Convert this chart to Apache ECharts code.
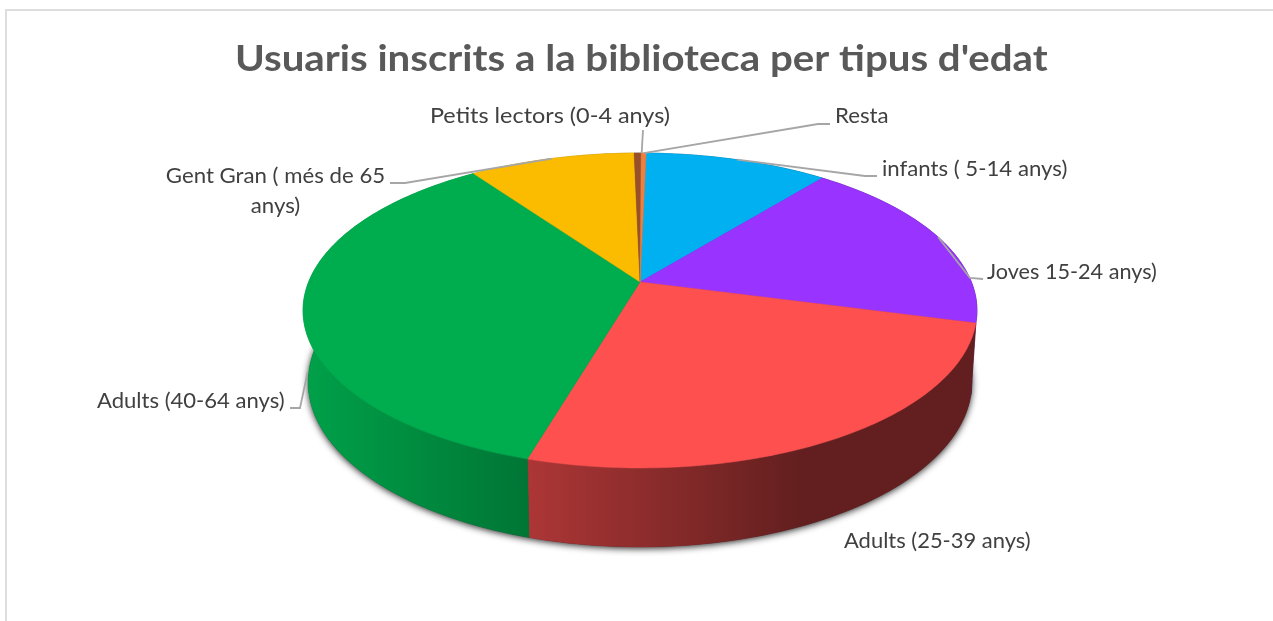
<!DOCTYPE html>
<html><head><meta charset="utf-8">
<style>html,body{margin:0;padding:0;background:#fff}#c{width:1273px;height:621px}</style>
<script src="https://cdn.jsdelivr.net/npm/echarts@6/dist/echarts.min.js"></script>
</head><body><div id="c"></div>
<script>
// Data, clockwise from the top of the pie (percent of users)
const categories = ["infants ( 5-14 anys)", "Joves 15-24 anys)", "Adults (25-39 anys)", "Adults (40-64 anys)", "Gent Gran ( més de 65\nanys)", "Petits lectors (0-4 anys)", "Resta"];
const values = [10.45, 18.35, 25.4, 35.7, 9.45, 0.4, 0.28];
const colors = ["#00B0F0", "#9933FF", "#FF5050", "#00AD4E", "#FBBC00", "#96512A", "#ED8040"];
const titleText = "Usuaris inscrits a la biblioteca per tipus d'edat";

// Layout / projection of the tilted disc
const firstSliceAngle = 1.25, apexX = 640, apexY = 282;
const persp = 0.181, scaleX = 331.4, scaleY = 152.3;
const wallScaleX = 0.985, wallScaleY = 1.047, wallDrop = 70.3;
// Wall shading by screen x: [x, brightness]
const wallShade = [[303, 0.93], [527, 0.68], [800, 0.39], [977, 0.39]];
// Label anchors: [x, y, align], horizontal stretch, leader elbows, where on the wall the leader lands (0 = top rim), and a small sideways nudge
const labelPos = [[882, 169, 'left'], [987, 272, 'left'], [844, 541.5, 'left'], [97, 401, 'left'], [275.5, 191, 'center'], [550, 116.5, 'center'], [835, 116.5, 'left']];
const labelStretch = [1.057, 1.03, 1.045, 1.05, 1.058, 1.115, 1.06];
const leaderPath = [[[865, 176], [877, 176]], [[970, 278], [983, 279]], null, [[300, 408], [290, 408]], [[405, 183], [390, 183]], [[643, 130]], [[818, 124], [830, 124]]];
const leaderDepth = [0, 0, 0, 0.9, 0, 0, 0];
const leaderNudge = [0, 0, 0, 0, 0, 4, 0];

const total = values.reduce((a, b) => a + b, 0);
const starts = [];
values.reduce((acc, v, i) => { starts[i] = acc; return acc + v / total * 360; }, firstSliceAngle);

function rimPoint(deg) {
  const r = deg * Math.PI / 180, u = Math.sin(r), v = -Math.cos(r), w = 1 - persp * v;
  return [apexX + scaleX * u / w, apexY + scaleY * v / w];
}
function basePoint(deg) {
  const p = rimPoint(deg);
  return [apexX + (p[0] - apexX) * wallScaleX, apexY + (p[1] - apexY) * wallScaleY + wallDrop];
}
function arc(fn, a, b) {
  const n = Math.max(2, Math.ceil(Math.abs(b - a))), pts = [];
  for (let i = 0; i <= n; i++) pts.push(fn(a + (b - a) * i / n));
  return pts;
}
function shade(hex, k) {
  const n = parseInt(hex.slice(1), 16);
  return 'rgb(' + [n >> 16 & 255, n >> 8 & 255, n & 255].map(c => Math.round(c * k)).join(',') + ')';
}
function wallFill(hex) {
  const x0 = wallShade[0][0], x1 = wallShade[wallShade.length - 1][0];
  return { type: 'linear', x: x0, y: 0, x2: x1, y2: 0, global: true,
    colorStops: wallShade.map(s => ({ offset: (s[0] - x0) / (x1 - x0), color: shade(hex, s[1]) })) };
}
const ids = categories.map((_, i) => i);

const chart = echarts.init(document.getElementById('c'), null, { renderer: 'canvas' });
chart.setOption({
  animation: false,
  backgroundColor: '#fff',
  tooltip: { show: false },
  graphic: [
    { type: 'line', shape: { x1: 5, y1: 10, x2: 1273, y2: 10 }, style: { stroke: '#DDDDDD', lineWidth: 2 }, silent: true },
    { type: 'line', shape: { x1: 6, y1: 10, x2: 6, y2: 621 }, style: { stroke: '#DDDDDD', lineWidth: 2 }, silent: true },
    { type: 'text', x: 235, y: 59, scaleX: 1.117, silent: true,
      style: { text: titleText, x: 0, y: 0, align: 'left', verticalAlign: 'middle', font: 'bold 36px Lato', fill: '#595959' } }
  ],
  series: [
    { type: 'custom', coordinateSystem: 'none', silent: true, data: [0], z: 1,
      renderItem: () => ({ type: 'polygon', shape: { points: arc(basePoint, 0, 360) },
        style: { fill: '#333', shadowBlur: 7, shadowColor: 'rgba(0,0,0,0.85)', shadowOffsetY: 1.5 } }) },
    { type: 'custom', coordinateSystem: 'none', silent: true, data: ids, z: 2,
      renderItem: (p) => {
        const i = p.dataIndex, a = starts[i], b = a + values[i] / total * 360;
        const pts = arc(rimPoint, a, b).concat(arc(basePoint, b, a));
        const f = wallFill(colors[i]);
        return { type: 'polygon', shape: { points: pts }, style: { fill: f, stroke: f, lineWidth: 0.5 } };
      } },
    { type: 'custom', coordinateSystem: 'none', silent: true, data: ids, z: 3,
      renderItem: (p) => {
        const i = p.dataIndex, a = starts[i], b = a + values[i] / total * 360;
        return { type: 'polygon', shape: { points: [[apexX, apexY]].concat(arc(rimPoint, a, b)) },
          style: { fill: colors[i], stroke: colors[i], lineWidth: 0.5 } };
      } },
    { type: 'custom', coordinateSystem: 'none', silent: true, data: ids, z: 4,
      renderItem: (p) => {
        const i = p.dataIndex, mid = starts[i] + values[i] / total * 180;
        const children = [];
        if (leaderPath[i]) {
          const t = rimPoint(mid), g = basePoint(mid), d = leaderDepth[i];
          const s = [t[0] + (g[0] - t[0]) * d + leaderNudge[i], t[1] + (g[1] - t[1]) * d];
          children.push({ type: 'polyline', shape: { points: [s].concat(leaderPath[i]) },
            style: { stroke: '#A6A6A6', lineWidth: 1.8, fill: 'none' } });
        }
        const L = labelPos[i];
        children.push({ type: 'text', x: L[0], y: L[1], scaleX: labelStretch[i],
          style: { text: categories[i], x: 0, y: 0, align: L[2], verticalAlign: 'middle', lineHeight: 30,
            font: '21px Lato', fill: '#404040' } });
        return { type: 'group', children };
      } }
  ]
});
</script></body></html>
